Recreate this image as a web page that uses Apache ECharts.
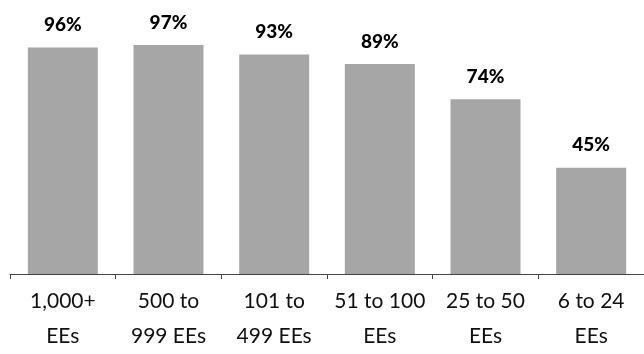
<!DOCTYPE html>
<html>
<head>
<meta charset="utf-8">
<script src="https://cdn.jsdelivr.net/npm/echarts@6/dist/echarts.min.js"></script>
<style>
  html, body { margin: 0; padding: 0; background: #fff; }
  #chart { width: 644px; height: 354px; }
</style>
</head>
<body>
<div id="chart"></div>
<script>
// categories and values
const categories = ["1,000+\nEEs", "500 to\n999 EEs", "101 to\n499 EEs", "51 to 100\nEEs", "25 to 50\nEEs", "6 to 24\nEEs"];
const values = [96, 97, 93, 89, 74, 45];

const chart = echarts.init(document.getElementById("chart"));
chart.setOption({
  animation: false,
  grid: { left: 10, right: -5, top: 38, bottom: 76 },
  xAxis: {
    type: "category",
    data: categories,
    axisLine: { show: true, lineStyle: { color: "#444", width: 1 } },
    axisTick: { show: true, length: 5, lineStyle: { color: "#444" } },
    axisLabel: {
      color: "#111",
      fontFamily: "Lato",
      fontSize: 21,
      lineHeight: 35,
      margin: 10,
      interval: 0
    }
  },
  yAxis: {
    type: "value",
    min: 0,
    max: 100,
    show: false,
    splitLine: { show: false }
  },
  series: [
    {
      type: "bar",
      data: values,
      barWidth: 70,
      itemStyle: { color: "#a6a6a6" },
      label: {
        show: true,
        position: "top",
        distance: 13,
        formatter: "{c}%",
        color: "#000",
        fontFamily: "Lato",
        fontWeight: 900,
        fontSize: 19
      }
    }
  ]
});
</script>
</body>
</html>
